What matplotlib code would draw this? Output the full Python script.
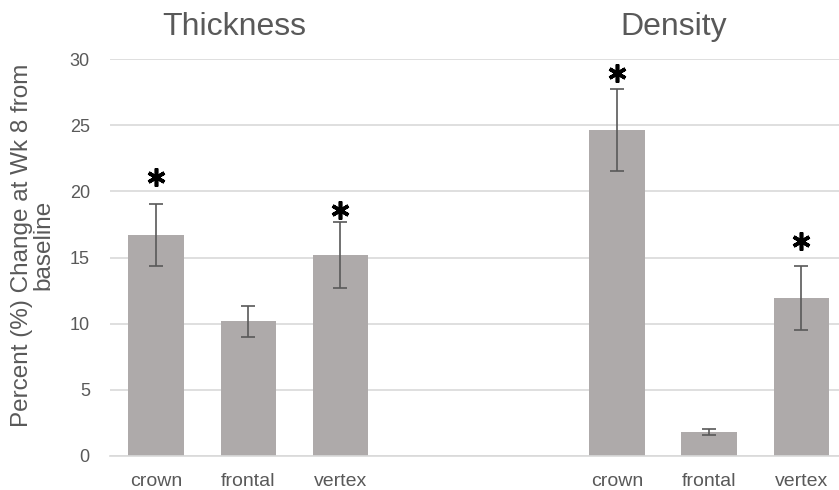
import matplotlib
matplotlib.use("Agg")
import matplotlib.pyplot as plt
import numpy as np

plt.rcParams['font.family'] = ['Liberation Sans', 'DejaVu Sans']

categories = ["crown", "frontal", "vertex", "", "", "crown", "frontal", "vertex"]
values = [16.7, 10.2, 15.2, None, None, 24.65, 1.8, 11.95]
errors = [2.35, 1.17, 2.5, None, None, 3.1, 0.21, 2.4]
star_idx = [0, 2, 5, 7]
star_y = [21.1, 18.6, 28.95, 16.25]
group_titles = ["Thickness", "Density"]
title_x = [0.85, 5.62]
yticks = [0, 5, 10, 15, 20, 25, 30]

fig = plt.figure(figsize=(8.39, 4.90), dpi=100)
ax = fig.add_axes([110/839, 1-456/490, 1-110/839, (456-59)/490])

x = np.arange(len(categories))
mask = [v is not None for v in values]
xs = x[mask]
vs = [v for v in values if v is not None]
es = [e for e in errors if e is not None]

ax.bar(xs, vs, width=0.6, color='#AEAAAA', zorder=2)
ax.errorbar(xs, vs, yerr=es, fmt='none', ecolor='#595959', elinewidth=1.2,
            capsize=5, capthick=1.2, zorder=3)
ax.plot(x[star_idx], star_y, linestyle='none', marker=(6, 2, 0), markersize=13,
        markeredgewidth=2.6, color='black', zorder=4)

ax.set_ylim(0, 30)
ax.set_xlim(-0.5, 7.41)
ax.set_yticks(yticks)
ax.set_xticks(x)
ax.set_xticklabels(categories)
ax.tick_params(axis='both', length=0, labelcolor='#595959')
ax.tick_params(axis='x', pad=12, labelsize=14)
ax.tick_params(axis='y', pad=14.5, labelsize=13)
ax.yaxis.grid(True, color='#D9D9D9', linewidth=1.2, zorder=0)
ax.set_axisbelow(True)
for s in ['top', 'right', 'left']:
    ax.spines[s].set_visible(False)
ax.spines['bottom'].set_color('#D9D9D9')
ax.spines['bottom'].set_linewidth(1.2)

for t, c in zip(group_titles, title_x):
    ax.text(c, (456-35)/397, t, transform=ax.get_xaxis_transform(), ha='center',
            va='baseline', fontsize=23, color='#595959')

fig.text(33/839, 1-245/490, "Percent (%) Change at Wk 8 from\nbaseline", rotation=90,
         ha='center', va='center', fontsize=17.5, color='#595959', linespacing=0.95)

fig.savefig("out.png", dpi=100)
